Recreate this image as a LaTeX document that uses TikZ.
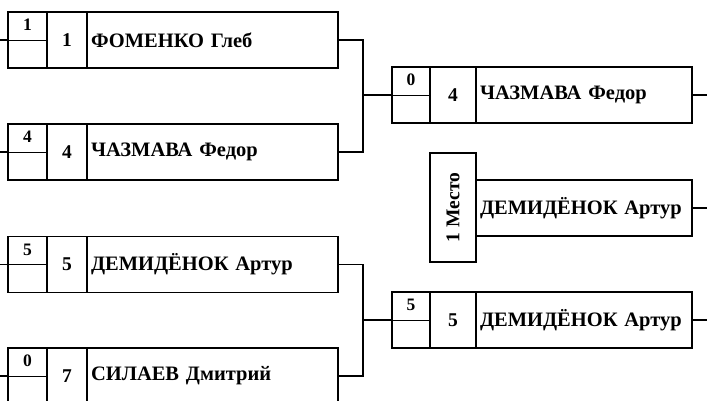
\documentclass[tikz,border=0pt]{standalone}
\usepackage{fontspec}
\setmainfont{Liberation Serif}
\usepackage{tikz}
\usetikzlibrary{calc}
\tikzset{
  cellbox/.style={draw=black, line width=1.4pt, inner sep=0pt, minimum height=56pt},
  namebox/.style={cellbox, inner xsep=4pt, align=left,
    font=\fontsize{20.5}{22}\selectfont\bfseries},
  seedbox/.style={cellbox, font=\fontsize{19.5}{22}\selectfont\bfseries},
  scorebox/.style={cellbox},
  scoretext/.style={inner sep=0pt, font=\fontsize{17.5}{20}\selectfont\bfseries},
  bline/.style={line width=1.4pt, draw=black},
  thinline/.style={line width=0.7pt, draw=black},
}

\begin{document}
\begin{tikzpicture}[x=1pt, y=-1pt]
\useasboundingbox (0,0) rectangle (707,401);
\clip (0,0) rectangle (707,401);
% first round
\node[scorebox, minimum width=39pt] (s1) at (27.5,40) {};
\node[seedbox, minimum width=40pt] (d1) at (67,40) {1};
\node[namebox, text width=243pt] (n1) at (212.5,40) {ФОМЕНКО Глеб};
\node[scorebox, minimum width=39pt] (s2) at (27.5,152) {};
\node[seedbox, minimum width=40pt] (d2) at (67,152) {4};
\node[namebox, text width=243pt] (n2) at (212.5,152) {ЧАЗМАВА Федор};
\node[scorebox, minimum width=39pt] (s3) at (27.5,264.5) {};
\node[seedbox, minimum width=40pt] (d3) at (67,264.5) {5};
\node[namebox, text width=243pt] (n3) at (212.5,264.5) {ДЕМИДЁНОК Артур};
\node[scorebox, minimum width=39pt] (s4) at (27.5,376) {};
\node[seedbox, minimum width=40pt] (d4) at (67,376) {7};
\node[namebox, text width=243pt] (n4) at (212.5,376) {СИЛАЕВ Дмитрий};
% second round
\node[scorebox, minimum width=38pt] (s5) at (411,95) {};
\node[seedbox, minimum width=46pt] (d5) at (453,95) {4};
\node[namebox, text width=208pt] (n5) at (584,95) {ЧАЗМАВА Федор};
\node[scorebox, minimum width=38pt] (s6) at (411,320) {};
\node[seedbox, minimum width=46pt] (d6) at (453,320) {5};
\node[namebox, text width=208pt] (n6) at (584,320) {ДЕМИДЁНОК Артур};
% winner
\node[seedbox, minimum width=46pt, minimum height=109pt] (place) at (453,207.5)
  {\rotatebox{90}{1 Место}};
\node[namebox, text width=208pt] (win) at (584,208) {ДЕМИДЁНОК Артур};
% scores
\foreach \s/\v in {s1/1, s2/4, s3/5, s4/0, s5/0, s6/5} {
  \draw[thinline] (\s.west) -- (\s.east);
  \node[scoretext] at ($(\s.north)!0.48!(\s.center)$) {\v};
}
% lines in
\foreach \s in {s1, s2, s3, s4} {
  \coordinate (in-\s) at (0,0 |- \s.west);
  \draw[bline] (in-\s) -- (\s.west);
}
% brackets
\coordinate (j1) at (363,95);
\coordinate (j2) at (363,320);
\draw[bline] (n1.east) -| (j1) |- (n2.east);
\draw[bline] (j1) -- (s5.west);
\draw[bline] (n3.east) -| (j2) |- (n4.east);
\draw[bline] (j2) -- (s6.west);
% lines out
\foreach \n in {n5, win, n6} {
  \coordinate (out-\n) at (707,0 |- \n.east);
  \draw[bline] (\n.east) -- (out-\n);
}
\end{tikzpicture}
\end{document}
